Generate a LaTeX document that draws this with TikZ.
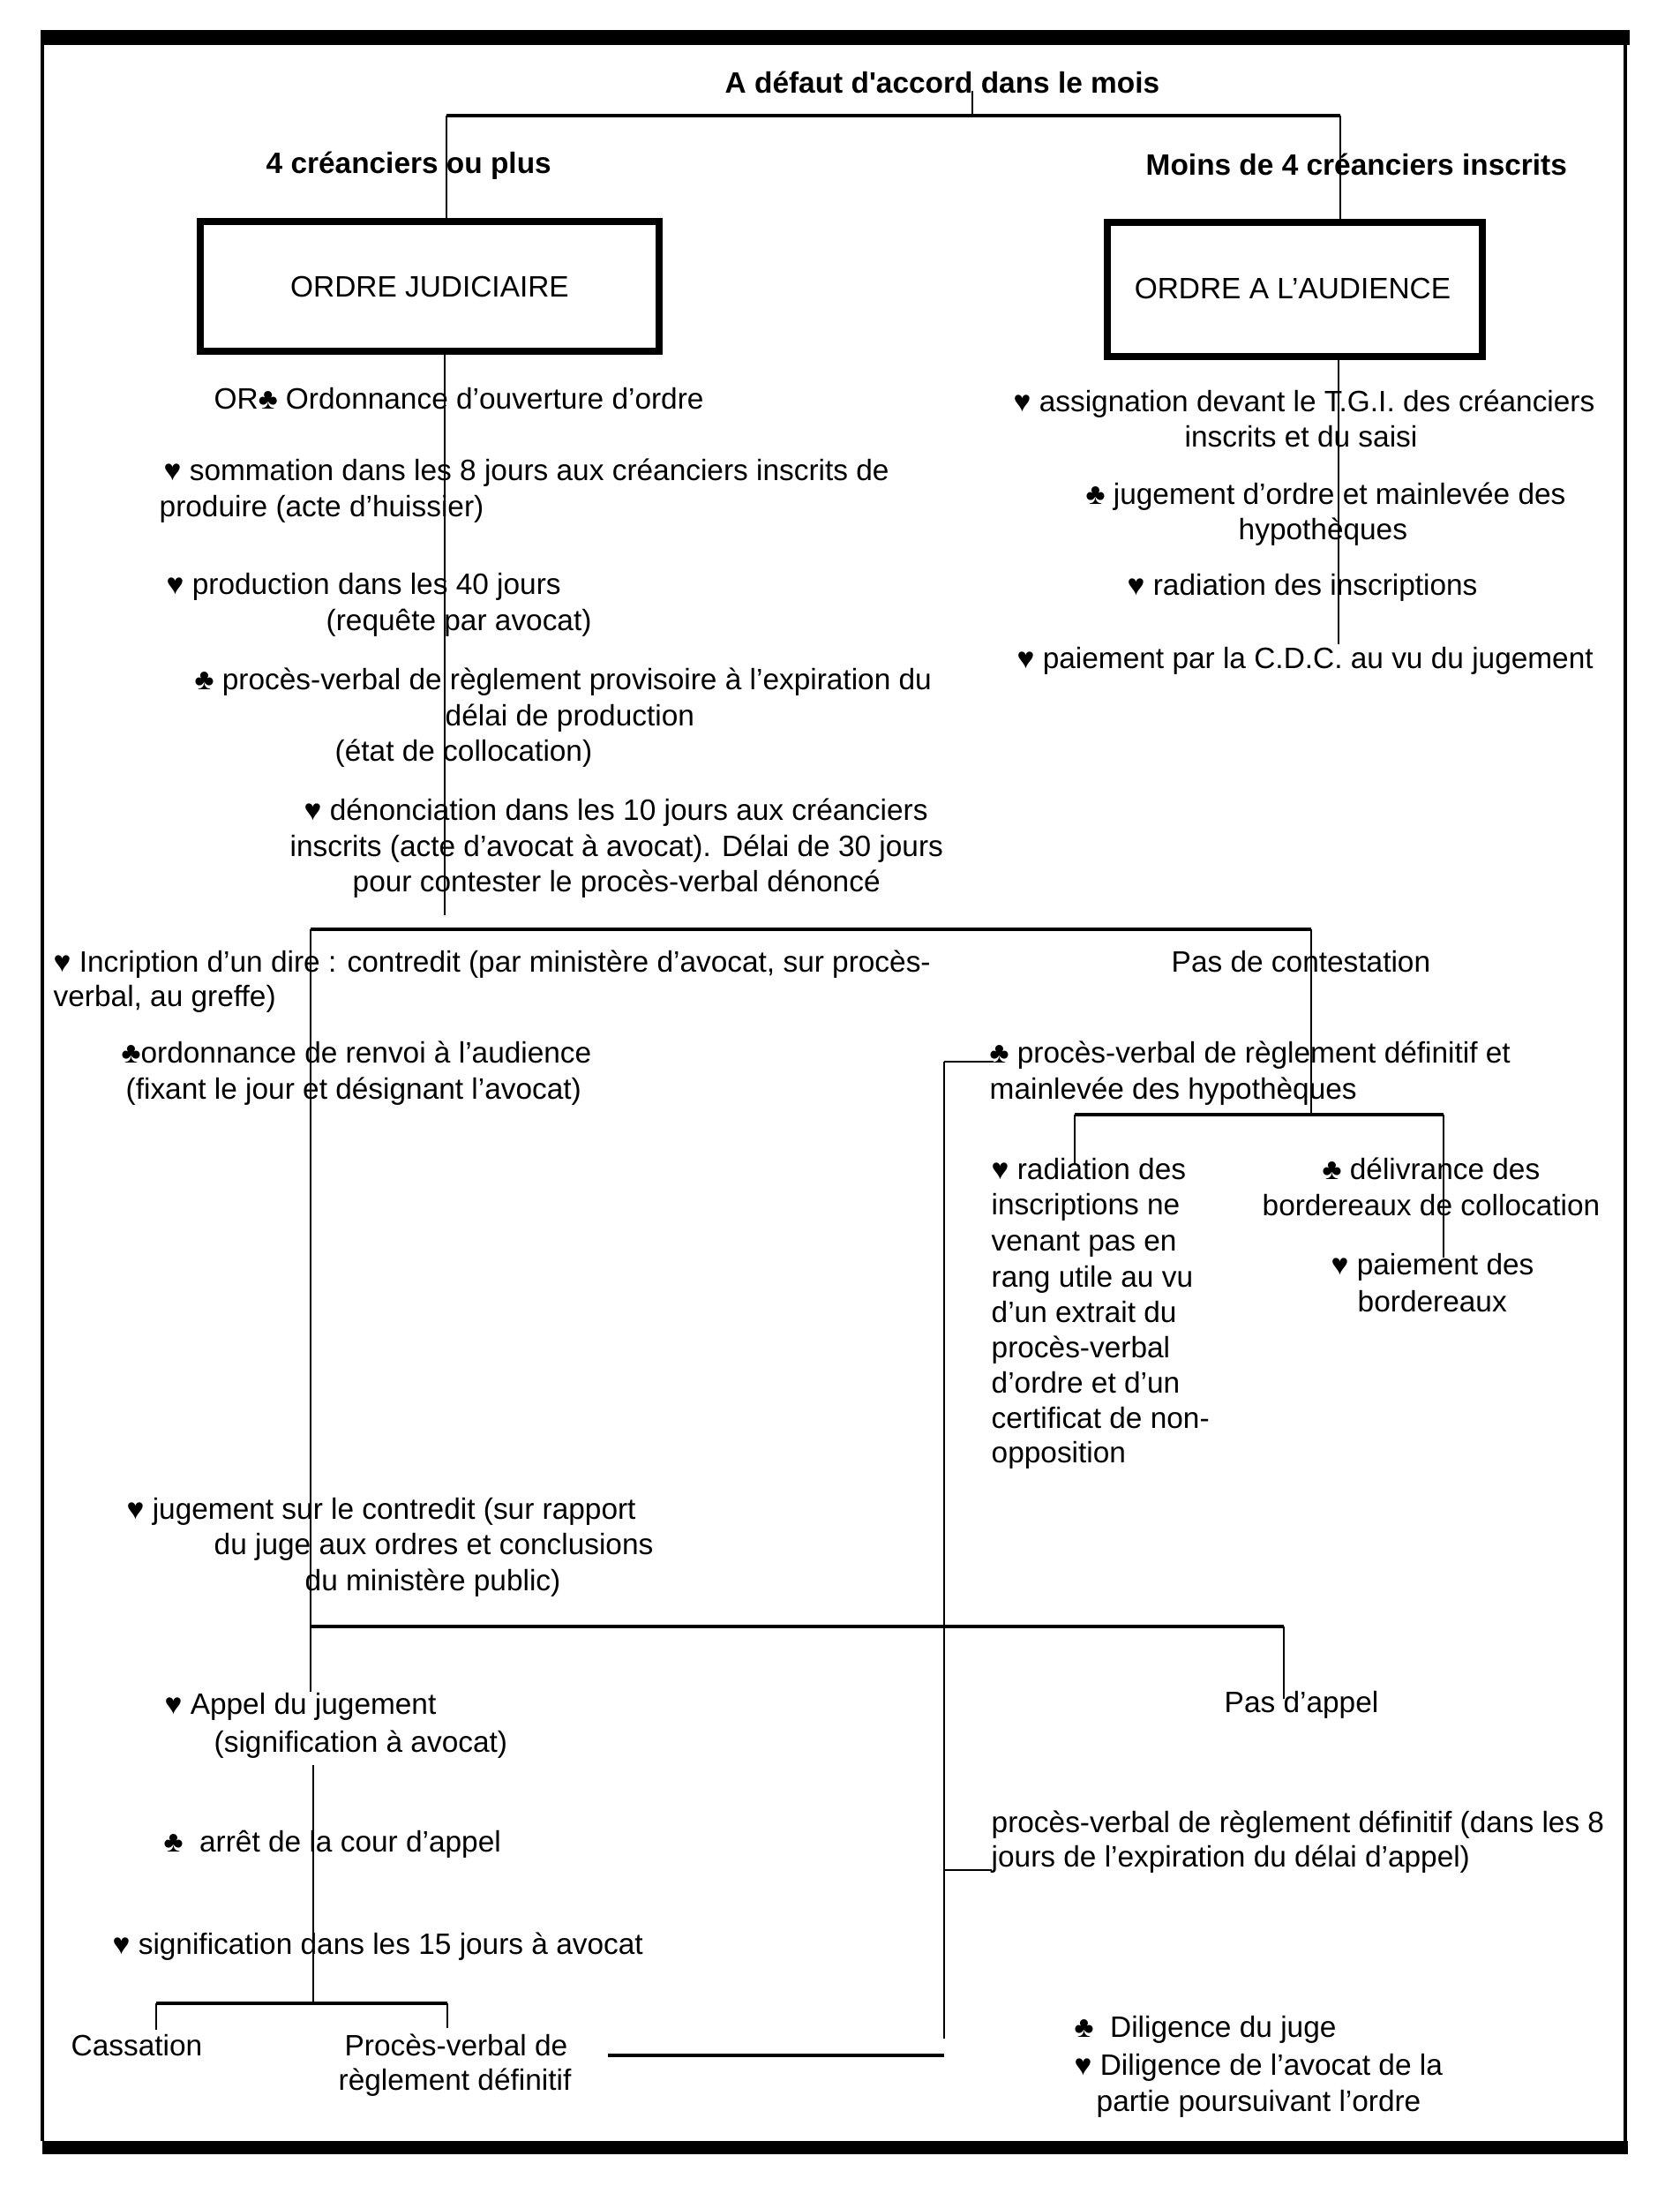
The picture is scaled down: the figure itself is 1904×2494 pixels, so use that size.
\documentclass[tikz,border=0pt]{standalone}
\usepackage{fontspec}
\setmainfont{Liberation Sans}
\newcommand\tf{\fontsize{9.5}{11}\selectfont}
\begin{document}
\begin{tikzpicture}[x=0.01cm,y=-0.01cm,
  txt/.style={anchor=base west,inner sep=0pt,font=\tf},
  btxt/.style={anchor=base west,inner sep=0pt,font=\tf\bfseries},
  boxtxt/.style={anchor=center,inner sep=0pt,font=\tf},
  ln/.style={line width=0.7pt},
  hl/.style={line width=1.1pt},
  bx/.style={line width=2.2pt}]
\useasboundingbox (0,0) rectangle (1904,2494);
% frame
\fill (46,34) rectangle (1847,51);
\fill (48,2426) rectangle (1845,2441);
\draw[line width=0.9pt] (48,51) -- (48,2426);
\draw[line width=0.9pt] (1842,51) -- (1842,2426);
% headings
\node[btxt] (title) at (821,106) {A défaut d\textquotesingle accord dans le mois};
\node[btxt] (plus) at (301,197) {4 créanciers ou plus};
\node[btxt] (moins) at (1298,199) {Moins de 4 créanciers inscrits};
% boxes
\draw[bx] (227,251) rectangle (747,398);
\node[boxtxt] (oj) at (487,325) {ORDRE JUDICIAIRE};
\draw[bx] (1255,252) rectangle (1680,404);
\node[boxtxt] (oa) at (1465,327) {ORDRE A L’AUDIENCE};
% coordinates
\coordinate (c1a) at (1102,103); \coordinate (c1b) at (1102,131);
\coordinate (h1a) at (506,131); \coordinate (h1b) at (1519,131);
\coordinate (v2b) at (506,247); \coordinate (v3b) at (1519,248);
\coordinate (sLa) at (504,402); \coordinate (sLb) at (504,1037);
\coordinate (sRa) at (1517,406); \coordinate (sRb) at (1517,730);
\coordinate (h2a) at (352,1053); \coordinate (h2b) at (1486,1053);
\coordinate (v4b) at (352,1917);
\coordinate (v5a) at (355,2000); \coordinate (v5b) at (355,2270);
\coordinate (h3a) at (177,2270); \coordinate (h3b) at (507,2270);
\coordinate (v6b) at (177,2300); \coordinate (v7b) at (507,2298);
\coordinate (h4a) at (689,2329); \coordinate (h4b) at (1070,2329);
\coordinate (v8a) at (1070,1203); \coordinate (v8b) at (1070,2310);
\coordinate (h5b) at (1126,1203);
\coordinate (h6a) at (1070,2119); \coordinate (h6b) at (1124,2119);
\coordinate (h7a) at (352,1843); \coordinate (h7b) at (1455,1843);
\coordinate (v9b) at (1455,1925);
\coordinate (v10b) at (1486,1263);
\coordinate (h8a) at (1218,1263); \coordinate (h8b) at (1636,1263);
\coordinate (v11b) at (1218,1320); \coordinate (v12b) at (1636,1425);
% lines
\draw[ln] (c1a) -- (c1b);
\draw[hl] (h1a) -- (h1b);
\draw[ln] (h1a) -- (v2b);
\draw[ln] (h1b) -- (v3b);
\draw[ln] (sLa) -- (sLb);
\draw[ln] (sRa) -- (sRb);
\draw[hl] (h2a) -- (h2b);
\draw[ln] (h2a) -- (v4b);
\draw[ln] (v5a) -- (v5b);
\draw[hl] (h3a) -- (h3b);
\draw[ln] (h3a) -- (v6b);
\draw[ln] (h3b) -- (v7b);
\draw[hl] (h4a) -- (h4b);
\draw[ln] (v8a) -- (v8b);
\draw[ln] (v8a) -- (h5b);
\draw[ln] (h6a) -- (h6b);
\draw[hl] (h7a) -- (h7b);
\draw[ln] (h7b) -- (v9b);
\draw[ln] (h2b) -- (v10b);
\draw[hl] (h8a) -- (h8b);
\draw[ln] (h8a) -- (v11b);
\draw[ln] (h8b) -- (v12b);
% left column
\node[txt] (a) at (242,463) {OR♣ Ordonnance d’ouverture d’ordre};
\node[txt] (b1) at (185,544) {♥ sommation dans les 8 jours aux créanciers inscrits de};
\node[txt] (b2) at (180,585) {produire (acte d’huissier)};
\node[txt] (cc1) at (188,673) {♥ production dans les 40 jours};
\node[txt] (cc2) at (369,714) {(requête par avocat)};
\node[txt] (d1) at (220,781) {♣ procès-verbal de règlement provisoire à l’expiration du};
\node[txt] (d2) at (504,822) {délai de production};
\node[txt] (d3) at (379,862) {(état de collocation)};
\node[txt] (e1) at (344,929) {♥ dénonciation dans les 10 jours aux créanciers};
\node[txt] (e2) at (328,970) {inscrits (acte d’avocat à avocat). Délai de 30 jours};
\node[txt] (e3) at (399,1010) {pour contester le procès-verbal dénoncé};
% right column
\node[txt] (f1) at (1148,466) {♥ assignation devant le T.G.I. des créanciers};
\node[txt] (f2) at (1342,506) {inscrits et du saisi};
\node[txt] (g1) at (1230,571) {♣ jugement d’ordre et mainlevée des};
\node[txt] (g2) at (1403,611) {hypothèques};
\node[txt] (h) at (1277,674) {♥ radiation des inscriptions};
\node[txt] (i) at (1152,757) {♥ paiement par la C.D.C. au vu du jugement};
% contredit branch
\node[txt] (j1) at (60,1101) {♥ Incription d’un dire : contredit (par ministère d’avocat, sur procès-};
\node[txt] (j2) at (60,1140) {verbal, au greffe)};
\node[txt] (k1) at (137,1204) {♣ordonnance de renvoi à l’audience};
\node[txt] (k2) at (142,1245) {(fixant le jour et désignant l’avocat)};
\node[txt] (l1) at (143,1721) {♥ jugement sur le contredit (sur rapport};
\node[txt] (l2) at (242,1761) {du juge aux ordres et conclusions};
\node[txt] (l3) at (345,1802) {du ministère public)};
\node[txt] (m1) at (186,1942) {♥ Appel du jugement};
\node[txt] (m2) at (242,1985) {(signification à avocat)};
\node[txt] (n) at (185,2098) {♣~ arrêt de la cour d’appel};
\node[txt] (o) at (127,2214) {♥ signification dans les 15 jours à avocat};
\node[txt] (p) at (80,2329) {Cassation};
\node[txt] (q1) at (390,2329) {Procès-verbal de};
\node[txt] (q2) at (383,2368) {règlement définitif};
% pas de contestation branch
\node[txt] (r) at (1327,1101) {Pas de contestation};
\node[txt] (s1) at (1121,1204) {♣ procès-verbal de règlement définitif et};
\node[txt] (s2) at (1121,1245) {mainlevée des hypothèques};
\node[txt] (t1) at (1123,1336) {♥ radiation des};
\node[txt] (t2) at (1123,1376) {inscriptions ne};
\node[txt] (t3) at (1123,1417) {venant pas en};
\node[txt] (t4) at (1123,1458) {rang utile au vu};
\node[txt] (t5) at (1123,1498) {d’un extrait du};
\node[txt] (t6) at (1123,1538) {procès-verbal};
\node[txt] (t7) at (1123,1578) {d’ordre et d’un};
\node[txt] (t8) at (1123,1618) {certificat de non-};
\node[txt] (t9) at (1123,1657) {opposition};
\node[txt] (u1) at (1498,1336) {♣ délivrance des};
\node[txt] (u2) at (1430,1377) {bordereaux de collocation};
\node[txt] (v1) at (1508,1444) {♥ paiement des};
\node[txt] (v2) at (1538,1486) {bordereaux};
\node[txt] (w) at (1387,1940) {Pas d’appel};
\node[txt] (x1) at (1123,2076) {procès-verbal de règlement définitif (dans les 8};
\node[txt] (x2) at (1123,2115) {jours de l’expiration du délai d’appel)};
% legend
\node[txt] (y1) at (1217,2308) {♣~ Diligence du juge};
\node[txt] (y2) at (1217,2351) {♥ Diligence de l’avocat de la};
\node[txt] (y3) at (1242,2392) {partie poursuivant l’ordre};
\end{tikzpicture}
\end{document}
